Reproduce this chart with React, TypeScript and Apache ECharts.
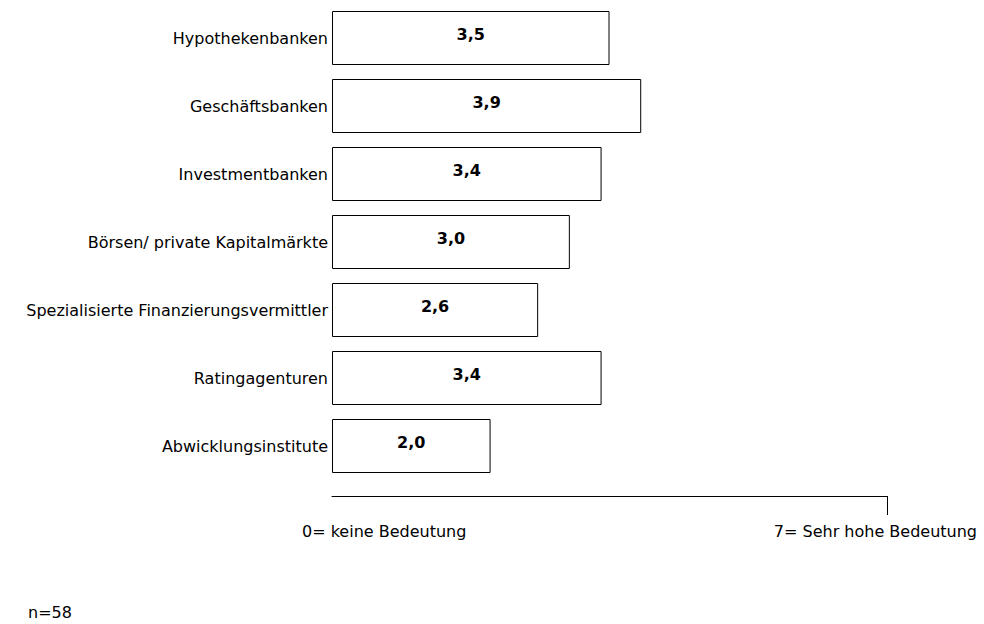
import React, { useEffect, useRef } from "react";
import * as echarts from "echarts";

// Bedeutung der Finanzierungspartner (Mittelwerte, Skala 0–7)
const categories = [
  "Hypothekenbanken",
  "Geschäftsbanken",
  "Investmentbanken",
  "Börsen/ private Kapitalmärkte",
  "Spezialisierte Finanzierungsvermittler",
  "Ratingagenturen",
  "Abwicklungsinstitute",
];
const values = [3.5, 3.9, 3.4, 3.0, 2.6, 3.4, 2.0];
const scaleMin = 0;
const scaleMax = 7;
const scaleLabels = ["0= keine Bedeutung", "7= Sehr hohe Bedeutung"];
const sampleNote = "n=58";

const FONT = "DejaVu Sans";
const FONT_SIZE = 16;

export default function App() {
  const ref = useRef<HTMLDivElement>(null);

  useEffect(() => {
    if (!ref.current) return;
    const chart = echarts.init(ref.current, undefined, { renderer: "svg" });

    const option: echarts.EChartsOption = {
      animation: false,
      backgroundColor: "#ffffff",
      grid: { left: 332, top: 4, width: 555, height: 476, containLabel: false },
      xAxis: {
        type: "value",
        min: scaleMin,
        max: scaleMax,
        offset: 16,
        axisLine: { show: true, lineStyle: { color: "#000", width: 1 } },
        axisTick: {
          show: true,
          customValues: [scaleMax],
          length: 19,
          lineStyle: { color: "#000", width: 1 },
        },
        axisLabel: { show: false },
        splitLine: { show: false },
      },
      yAxis: {
        type: "category",
        data: categories,
        inverse: true,
        axisLine: { show: false },
        axisTick: { show: false },
        axisLabel: {
          margin: 4,
          color: "#000",
          fontFamily: FONT,
          fontSize: FONT_SIZE,
        },
      },
      series: [
        {
          type: "bar",
          data: values,
          barWidth: 54,
          itemStyle: { color: "#ffffff", borderColor: "#000", borderWidth: 1 },
          label: {
            show: true,
            position: "inside",
            offset: [0, -4],
            color: "#000",
            fontFamily: FONT,
            fontWeight: "bold",
            fontSize: FONT_SIZE,
            formatter: (p: any) => Number(p.value).toFixed(1).replace(".", ","),
          },
        },
      ],
    };
    chart.setOption(option);

    // Skalenbeschriftung unterhalb der Achse
    const x0 = chart.convertToPixel({ gridIndex: 0 }, [scaleMin, 0]) as number[];
    const x7 = chart.convertToPixel({ gridIndex: 0 }, [scaleMax, 0]) as number[];
    const textStyle = { fill: "#000", fontFamily: FONT, fontSize: FONT_SIZE };
    chart.setOption({
      graphic: [
        {
          type: "text",
          x: x0[0] - 30,
          y: 531,
          style: { ...textStyle, text: scaleLabels[0], textAlign: "left", textVerticalAlign: "middle" },
        },
        {
          type: "text",
          x: x7[0] + 90,
          y: 531,
          style: { ...textStyle, text: scaleLabels[1], textAlign: "right", textVerticalAlign: "middle" },
        },
        {
          type: "text",
          x: 28,
          y: 612,
          style: { ...textStyle, text: sampleNote, textAlign: "left", textVerticalAlign: "middle" },
        },
      ],
    });

    return () => chart.dispose();
  }, []);

  return (
    <div
      ref={ref}
      style={{ position: "fixed", left: 0, top: 0, width: 984, height: 624 }}
    />
  );
}
